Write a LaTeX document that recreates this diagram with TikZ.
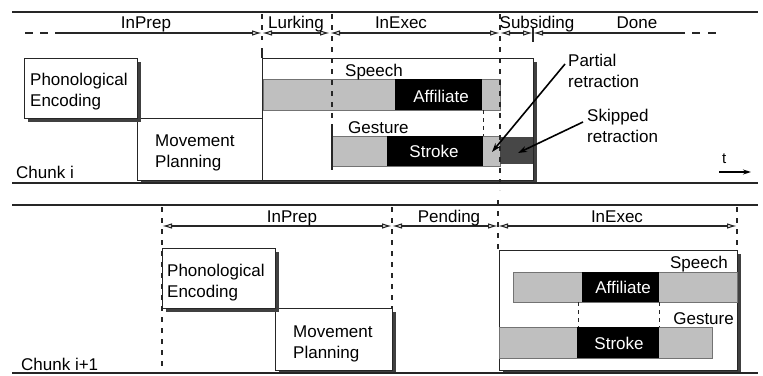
\documentclass[tikz,border=0pt]{standalone}
\usepackage{fontspec}
\setmainfont{Liberation Sans}
\usetikzlibrary{arrows.meta,shadows}
\begin{document}
\begin{tikzpicture}[x=1pt,y=-1pt,
  font=\fontsize{17}{21}\selectfont,
  rule/.style={line width=1.3pt, black!85},
  tl/.style={line width=1.1pt, black!85},
  tip/.tip={Latex[open,length=10pt,width=5.5pt]},
  dimarrow/.style={tl, tip-tip},
  sepline/.style={line width=1.1pt, black!85, dash pattern=on 5pt off 6pt},
  shortdash/.style={line width=1pt, black!85, dash pattern=on 4pt off 4pt},
  shadowed/.style={general shadow={fill=black!75, shadow xshift=3pt, shadow yshift=-3pt}},
  procbox/.style={draw=black!85, line width=1pt, fill=white, inner sep=0pt, anchor=north west, shadowed},
  graybar/.style={fill=black!25, draw=black!55, line width=0.7pt},
  blackbar/.style={fill=black},
  txt/.style={inner sep=0pt, anchor=base west},
  ctxt/.style={inner sep=0pt, anchor=base},
  rtxt/.style={inner sep=0pt, anchor=base east},
  wtxt/.style={inner sep=0pt, anchor=base, text=white},
  callout/.style={line width=1.6pt, black, -{Stealth[length=9pt,width=6pt]}},
]
\useasboundingbox (0,0) rectangle (763,375);

% ---------------- Chunk i ----------------
\coordinate (A1) at (12,12);  \coordinate (A2) at (758,12);
\coordinate (B1) at (12,183); \coordinate (B2) at (758,183);
\draw[rule] (A1) -- (A2);

% separator ticks top
\coordinate (s1a) at (262,14); \coordinate (s1b) at (262,40);
\coordinate (s1c) at (262,48); \coordinate (s1d) at (262,58);
\coordinate (s4a) at (533,27); \coordinate (s4b) at (533,42);
\draw[sepline] (s1a) -- (s1b);
\draw[tl] (s1c) -- (s1d);
\draw[tl] (s4a) -- (s4b);

% timeline top
\coordinate (d0) at (25,33); \coordinate (d1) at (55,33);
\coordinate (p1) at (262,33); \coordinate (p2) at (330,33);
\coordinate (p3) at (500,33); \coordinate (p4) at (533,33);
\coordinate (d2) at (685,33); \coordinate (d3) at (692,33); \coordinate (d4) at (722,33);
\draw[tl, dash pattern=on 8pt off 7pt] (d0) -- (d1);
\draw[tl, -tip] (d1) -- (p1);
\draw[dimarrow] (p1) -- (p2);
\draw[dimarrow] (p2) -- (p3);
\draw[dimarrow] (p3) -- (p4);
\draw[tl, -tip] (d2) -- (p4);
\draw[tl, dash pattern=on 8pt off 8pt] (d3) -- (d4);

\node[ctxt] (l1) at (146,28) {InPrep};
\node[ctxt] (l2) at (296,28) {Lurking};
\node[ctxt] (l3) at (401,28) {InExec};
\node[ctxt] (l4) at (537,28) {Subsiding};
\node[ctxt] (l5) at (637,28) {Done};

% boxes
\node[procbox, minimum width=125pt, minimum height=62pt] (mp1) at (137,118) {};
\node[procbox, minimum width=113pt, minimum height=60pt] (pe1) at (24,58) {};
\node[procbox, minimum width=271pt, minimum height=122pt] (ex1) at (262,58) {};

\node[txt] (pe1a) at (30,85) {Phonological};
\node[txt] (pe1b) at (30,106) {Encoding};
\node[txt] (mp1a) at (155,146) {Movement};
\node[txt] (mp1b) at (155,167) {Planning};
\node[txt] (ch1) at (16,178) {Chunk i};

% bars chunk i
\draw[graybar] (263,79) rectangle (500,110);
\fill[blackbar] (395,79) rectangle (482,110);
\draw[graybar] (332,136) rectangle (500,166);
\fill[blackbar] (387,136) rectangle (483,166);
\fill[black!72] (500,137) rectangle (533,164);

\coordinate (g1a) at (332,128); \coordinate (g1b) at (332,170);
\draw[tl] (g1a) -- (g1b);
\coordinate (s2a) at (332,14); \coordinate (s2b) at (332,128);
\draw[sepline] (s2a) -- (s2b);
\coordinate (s3a) at (500,14); \coordinate (s3b) at (500,190);
\draw[sepline] (s3a) -- (s3b);
\coordinate (k1a) at (483,110); \coordinate (k1b) at (483,136);
\draw[shortdash] (k1a) -- (k1b);

\node[txt] (sp1) at (345,76) {Speech};
\node[txt] (ge1) at (348,133) {Gesture};
\node[wtxt] (af1) at (441,102) {Affiliate};
\node[wtxt] (st1) at (434,157) {Stroke};

\draw[rule] (B1) -- (B2);

% callouts
\node[txt] (pr1) at (568,66) {Partial};
\node[txt] (pr2) at (568,87) {retraction};
\node[txt] (sk1) at (587,121) {Skipped};
\node[txt] (sk2) at (587,142) {retraction};
\coordinate (prs) at (565,64); \coordinate (pre) at (492,152);
\coordinate (sks) at (583,122); \coordinate (ske) at (518,153);
\draw[callout] (prs) -- (pre);
\draw[callout] (sks) -- (ske);

% time axis
\coordinate (ta) at (719,172); \coordinate (tb) at (751,172);
\draw[line width=1.3pt, -{Stealth[length=8pt,width=5pt]}] (ta) -- (tb);
\node[txt, font=\fontsize{15}{18}\selectfont] (tt) at (722,163) {t};

% ---------------- Chunk i+1 ----------------
\coordinate (C1) at (12,205); \coordinate (C2) at (758,205);
\coordinate (D1) at (12,373); \coordinate (D2) at (758,373);
\draw[rule] (C1) -- (C2);

\coordinate (q1) at (162,226); \coordinate (q2) at (392,226);
\coordinate (q3) at (498,226); \coordinate (q4) at (737,226);
\coordinate (v1a) at (162,207); \coordinate (v1b) at (162,372);
\coordinate (v2a) at (392,207); \coordinate (v2b) at (392,308);
\coordinate (v3a) at (498,200); \coordinate (v3b) at (498,250);
\coordinate (v4a) at (737,207); \coordinate (v4b) at (737,250);
\draw[sepline] (v1a) -- (v1b);
\draw[sepline] (v2a) -- (v2b);
\draw[sepline] (v3a) -- (v3b);
\draw[sepline] (v4a) -- (v4b);

\draw[dimarrow] (q1) -- (q2);
\draw[dimarrow] (q2) -- (q3);
\draw[dimarrow] (q3) -- (q4);

\node[ctxt] (m1) at (292,222) {InPrep};
\node[ctxt] (m2) at (449,222) {Pending};
\node[ctxt] (m3) at (617,222) {InExec};

\node[procbox, minimum width=117pt, minimum height=62pt] (mp2) at (275,308) {};
\node[procbox, minimum width=113pt, minimum height=60pt] (pe2) at (162,248) {};
\node[procbox, minimum width=238pt, minimum height=120pt] (ex2) at (499,250) {};

\node[txt] (pe2a) at (167,276) {Phonological};
\node[txt] (pe2b) at (167,297) {Encoding};
\node[txt] (mp2a) at (293,337) {Movement};
\node[txt] (mp2b) at (293,358) {Planning};
\node[txt] (ch2) at (21,370) {Chunk i+1};

\draw[graybar] (513,272) rectangle (737,302);
\fill[blackbar] (582,272) rectangle (659,302);
\draw[graybar] (499,327) rectangle (712,358);
\fill[blackbar] (577,327) rectangle (659,358);
\coordinate (k2a) at (578,302); \coordinate (k2b) at (578,327);
\coordinate (k3a) at (659,302); \coordinate (k3b) at (659,327);
\draw[shortdash] (k2a) -- (k2b);
\draw[shortdash] (k3a) -- (k3b);

\node[rtxt] (sp2) at (728,268) {Speech};
\node[rtxt] (ge2) at (734,324) {Gesture};
\node[wtxt] (af2) at (623,293) {Affiliate};
\node[wtxt] (st2) at (619,349) {Stroke};

\draw[rule] (D1) -- (D2);
\end{tikzpicture}
\end{document}
